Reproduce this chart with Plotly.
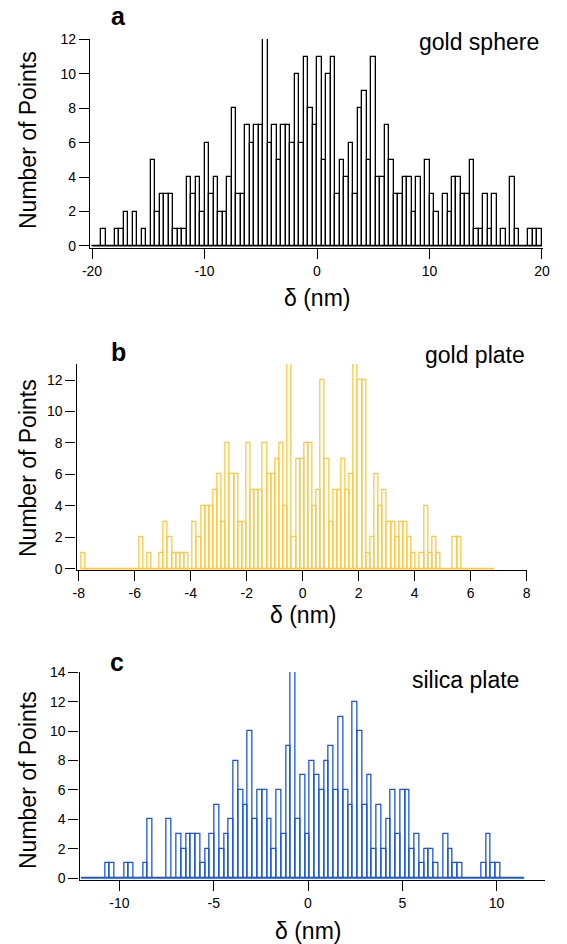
import plotly.graph_objects as go

# ---------------- data ----------------
# panel a: gold sphere, 100 bins of 0.4 nm starting at -20 nm
a_bin_start = -20.0
a_bin_width = 0.4
a_counts = [0, 0, 1, 0, 0, 1, 1, 2, 0, 2,
            0, 1, 0, 5, 2, 3, 3, 3, 1, 1,
            1, 4, 3, 4, 2, 6, 3, 4, 2, 2,
            4, 8, 3, 3, 7, 6, 7, 7, 12, 6,
            7, 5, 7, 7, 6, 10, 6, 11, 8, 7,
            11, 5, 10, 11, 3, 5, 4, 6, 3, 8,
            9, 5, 11, 4, 4, 7, 5, 3, 3, 4,
            4, 2, 4, 0, 5, 3, 2, 0, 3, 2,
            4, 4, 3, 3, 5, 1, 1, 3, 1, 3,
            0, 1, 0, 4, 1, 0, 0, 1, 1, 1]
a_xticks = [-20, -10, 0, 10, 20]
a_xtick_labels = ["-20", "-10", "0", "10", "20"]
a_yticks = [0, 2, 4, 6, 8, 10, 12]

# panel b: gold plate
b_bin_start = -7.91
b_bin_width = 0.1475
b_counts = [1, 0, 0, 0, 0, 0, 0, 0, 0, 0,
            0, 0, 0, 0, 2, 0, 1, 0, 0, 1,
            3, 2, 1, 1, 1, 1, 0, 3, 2, 4,
            4, 4, 5, 6, 3, 8, 6, 6, 3, 3,
            8, 5, 5, 5, 8, 6, 6, 7, 8, 4,
            13, 2, 7, 7, 8, 8, 4, 5, 12, 7,
            3, 5, 5, 7, 5, 6, 13, 12, 12, 1,
            2, 6, 4, 5, 3, 3, 2, 3, 3, 2,
            1, 0, 1, 4, 1, 2, 1, 0, 0, 0,
            2, 2, 0, 0, 0, 0, 0, 0, 0, 0]
b_xticks = [-8, -6, -4, -2, 0, 2, 4, 6, 8]
b_xtick_labels = ["-8", "-6", "-4", "-2", "0", "2", "4", "6", "8"]
b_yticks = [0, 2, 4, 6, 8, 10, 12]

# panel c: silica plate
c_bin_start = -12.03
c_bin_width = 0.2527
c_counts = [0, 0, 0, 0, 0, 1, 1, 0, 0, 1,
            1, 0, 0, 1, 4, 0, 0, 0, 4, 0,
            3, 2, 3, 3, 3, 1, 2, 3, 5, 2,
            3, 4, 8, 6, 5, 10, 4, 6, 6, 4,
            2, 6, 3, 9, 14, 4, 7, 3, 8, 7,
            6, 8, 9, 6, 11, 6, 5, 12, 10, 5,
            7, 2, 5, 2, 4, 6, 3, 6, 6, 2,
            3, 1, 2, 2, 1, 0, 3, 2, 1, 1,
            0, 0, 0, 0, 1, 3, 1, 1, 0, 0,
            0, 0, 0]
c_xticks = [-10, -5, 0, 5, 10]
c_xtick_labels = ["-10", "-5", "0", "5", "10"]
c_yticks = [0, 2, 4, 6, 8, 10, 12, 14]

x_title = "δ (nm)"
y_title = "Number of Points"
panel_letters = ["a", "b", "c"]
panel_names = ["gold sphere", "gold plate", "silica plate"]

# ---------------- layout helpers ----------------
W, H = 567, 944
FONT = "Liberation Sans, Arial, sans-serif"


def fx(px):
    return px / W


def fy(py):
    return 1 - py / H


panels = [
    dict(counts=a_counts, start=a_bin_start, width=a_bin_width, color="#000000",
         xticks=a_xticks, xlabels=a_xtick_labels, yticks=a_yticks,
         xpx=(90, 543), xr=(-20.18, 20.09), ypx=(39, 248), yr=(-0.12, 12.02),
         xt=(317, 298), yt=(28, 140), letter=(118, 16), name=(541, 42)),
    dict(counts=b_counts, start=b_bin_start, width=b_bin_width, color="#FFC844",
         xticks=b_xticks, xlabels=b_xtick_labels, yticks=b_yticks,
         xpx=(76.5, 527), xr=(-8.08, 8.01), ypx=(364, 570), yr=(-0.08, 13.02),
         xt=(303, 615), yt=(28, 468), letter=(118, 352), name=(527, 355)),
    dict(counts=c_counts, start=c_bin_start, width=c_bin_width, color="#1A56DB",
         xticks=c_xticks, xlabels=c_xtick_labels, yticks=c_yticks,
         xpx=(79.5, 545), xr=(-12.12, 12.57), ypx=(672, 880), yr=(-0.13, 14.03),
         xt=(308, 931), yt=(28, 780), letter=(117, 662), name=(521, 680)),
]

fig = go.Figure()
annotations = []
for k, p in enumerate(panels):
    xa = "x" if k == 0 else f"x{k+1}"
    ya = "y" if k == 0 else f"y{k+1}"
    n = len(p["counts"])
    lefts = [p["start"] + i * p["width"] for i in range(n)]
    fig.add_trace(go.Scatter(
        x=[p["start"], p["start"] + n * p["width"]], y=[0, 0], mode="lines",
        line=dict(color=p["color"], width=1.3), xaxis=xa, yaxis=ya,
        hoverinfo="skip", showlegend=False))
    fig.add_trace(go.Bar(
        x=lefts, y=p["counts"], width=p["width"], offset=0,
        marker=dict(color="rgba(255,255,255,0)", line=dict(color=p["color"], width=1.3)),
        xaxis=xa, yaxis=ya, showlegend=False))
    xkey = "xaxis" if k == 0 else f"xaxis{k+1}"
    ykey = "yaxis" if k == 0 else f"yaxis{k+1}"
    fig.update_layout(**{
        xkey: dict(domain=[fx(p["xpx"][0]), fx(p["xpx"][1])], range=list(p["xr"]),
                   anchor=ya, showline=True, linecolor="black", linewidth=1.3,
                   ticks="outside", ticklen=10, tickwidth=1.3, tickcolor="black",
                   tickvals=p["xticks"], ticktext=p["xlabels"], automargin=False,
                   showgrid=False, zeroline=False,
                   tickfont=dict(family=FONT, size=14, color="black")),
        ykey: dict(domain=[fy(p["ypx"][1]), fy(p["ypx"][0])], range=list(p["yr"]),
                   anchor=xa, showline=True, linecolor="black", linewidth=1.3,
                   ticks="outside", ticklen=10, tickwidth=1.3, tickcolor="black",
                   tickvals=p["yticks"], automargin=False,
                   showgrid=False, zeroline=False,
                   tickfont=dict(family=FONT, size=14, color="black")),
    })
    annotations.append(dict(text=x_title, x=fx(p["xt"][0]), y=fy(p["xt"][1]),
                            xref="paper", yref="paper", showarrow=False,
                            font=dict(family=FONT, size=23, color="black"),
                            xanchor="center", yanchor="middle"))
    annotations.append(dict(text=y_title, x=fx(p["yt"][0]), y=fy(p["yt"][1]),
                            xref="paper", yref="paper", showarrow=False, textangle=-90,
                            font=dict(family=FONT, size=23, color="black"),
                            xanchor="center", yanchor="middle"))
    annotations.append(dict(text="<b>" + panel_letters[k] + "</b>", x=fx(p["letter"][0]),
                            y=fy(p["letter"][1]), xref="paper", yref="paper", showarrow=False,
                            font=dict(family=FONT, size=25, color="black"),
                            xanchor="center", yanchor="middle"))
    annotations.append(dict(text=panel_names[k], x=fx(p["name"][0]), y=fy(p["name"][1]),
                            xref="paper", yref="paper", showarrow=False,
                            font=dict(family=FONT, size=23, color="black"),
                            xanchor="right", yanchor="middle"))

fig.update_layout(template="none", width=W, height=H,
                  margin=dict(l=0, r=0, t=0, b=0, autoexpand=False),
                  paper_bgcolor="white", plot_bgcolor="white",
                  bargap=0, showlegend=False, annotations=annotations)

fig.write_html("out.html", config={"displayModeBar": False},
               post_script="document.body.style.margin='0px';"
                           "document.body.style.overflow='hidden';")
